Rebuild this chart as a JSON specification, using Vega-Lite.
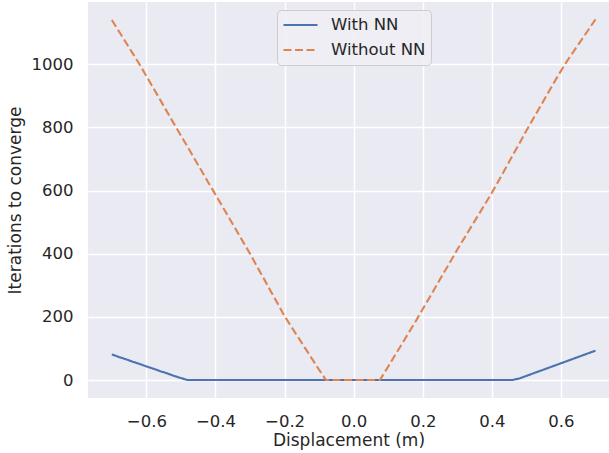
{
  "$schema": "https://vega.github.io/schema/vega-lite/v6.json",
  "width": 521,
  "height": 396,
  "autosize": {"type": "none"},
  "padding": {"left": 88, "top": 2, "right": 0, "bottom": 55},
  "background": "white",
  "config": {
    "font": "DejaVu Sans",
    "view": {"fill": "#EAEAF2", "stroke": null},
    "axis": {
      "domain": false,
      "ticks": false,
      "tickSize": 0,
      "grid": true,
      "gridColor": "white",
      "gridWidth": 1.4,
      "labelFont": "DejaVu Sans",
      "labelFontSize": 16.5,
      "labelColor": "#262626",
      "titleFont": "DejaVu Sans",
      "titleFontSize": 17,
      "titleFontWeight": "normal",
      "titleColor": "#262626"
    },
    "legend": {
      "labelFont": "DejaVu Sans",
      "labelFontSize": 16.5,
      "labelColor": "#262626"
    }
  },
  "data": {
    "values": [
      {"x": -0.70, "it": 81, "s": "With NN"},
      {"x": -0.68, "it": 73, "s": "With NN"},
      {"x": -0.66, "it": 66, "s": "With NN"},
      {"x": -0.64, "it": 58, "s": "With NN"},
      {"x": -0.62, "it": 51, "s": "With NN"},
      {"x": -0.60, "it": 43, "s": "With NN"},
      {"x": -0.58, "it": 36, "s": "With NN"},
      {"x": -0.56, "it": 28, "s": "With NN"},
      {"x": -0.54, "it": 21, "s": "With NN"},
      {"x": -0.52, "it": 13, "s": "With NN"},
      {"x": -0.50, "it": 6, "s": "With NN"},
      {"x": -0.48, "it": 0, "s": "With NN"},
      {"x": -0.40, "it": 0, "s": "With NN"},
      {"x": -0.20, "it": 0, "s": "With NN"},
      {"x": 0.00, "it": 0, "s": "With NN"},
      {"x": 0.20, "it": 0, "s": "With NN"},
      {"x": 0.40, "it": 0, "s": "With NN"},
      {"x": 0.46, "it": 0, "s": "With NN"},
      {"x": 0.48, "it": 5, "s": "With NN"},
      {"x": 0.50, "it": 13, "s": "With NN"},
      {"x": 0.52, "it": 21, "s": "With NN"},
      {"x": 0.54, "it": 29, "s": "With NN"},
      {"x": 0.56, "it": 37, "s": "With NN"},
      {"x": 0.58, "it": 45, "s": "With NN"},
      {"x": 0.60, "it": 53, "s": "With NN"},
      {"x": 0.62, "it": 61, "s": "With NN"},
      {"x": 0.64, "it": 69, "s": "With NN"},
      {"x": 0.66, "it": 77, "s": "With NN"},
      {"x": 0.68, "it": 85, "s": "With NN"},
      {"x": 0.70, "it": 93, "s": "With NN"},
      {"x": -0.70, "it": 1140, "s": "Without NN"},
      {"x": -0.68, "it": 1105, "s": "Without NN"},
      {"x": -0.66, "it": 1070, "s": "Without NN"},
      {"x": -0.64, "it": 1035, "s": "Without NN"},
      {"x": -0.62, "it": 1000, "s": "Without NN"},
      {"x": -0.60, "it": 962, "s": "Without NN"},
      {"x": -0.58, "it": 925, "s": "Without NN"},
      {"x": -0.56, "it": 887, "s": "Without NN"},
      {"x": -0.54, "it": 849, "s": "Without NN"},
      {"x": -0.52, "it": 811, "s": "Without NN"},
      {"x": -0.50, "it": 774, "s": "Without NN"},
      {"x": -0.48, "it": 737, "s": "Without NN"},
      {"x": -0.46, "it": 699, "s": "Without NN"},
      {"x": -0.44, "it": 662, "s": "Without NN"},
      {"x": -0.42, "it": 624, "s": "Without NN"},
      {"x": -0.40, "it": 587, "s": "Without NN"},
      {"x": -0.38, "it": 550, "s": "Without NN"},
      {"x": -0.36, "it": 512, "s": "Without NN"},
      {"x": -0.34, "it": 475, "s": "Without NN"},
      {"x": -0.32, "it": 437, "s": "Without NN"},
      {"x": -0.30, "it": 400, "s": "Without NN"},
      {"x": -0.28, "it": 360, "s": "Without NN"},
      {"x": -0.26, "it": 321, "s": "Without NN"},
      {"x": -0.24, "it": 281, "s": "Without NN"},
      {"x": -0.22, "it": 242, "s": "Without NN"},
      {"x": -0.20, "it": 202, "s": "Without NN"},
      {"x": -0.18, "it": 168, "s": "Without NN"},
      {"x": -0.16, "it": 134, "s": "Without NN"},
      {"x": -0.14, "it": 100, "s": "Without NN"},
      {"x": -0.12, "it": 66, "s": "Without NN"},
      {"x": -0.10, "it": 32, "s": "Without NN"},
      {"x": -0.08, "it": 0, "s": "Without NN"},
      {"x": -0.04, "it": 0, "s": "Without NN"},
      {"x": 0.00, "it": 0, "s": "Without NN"},
      {"x": 0.04, "it": 0, "s": "Without NN"},
      {"x": 0.076, "it": 0, "s": "Without NN"},
      {"x": 0.08, "it": 7, "s": "Without NN"},
      {"x": 0.10, "it": 43, "s": "Without NN"},
      {"x": 0.12, "it": 79, "s": "Without NN"},
      {"x": 0.14, "it": 115, "s": "Without NN"},
      {"x": 0.16, "it": 151, "s": "Without NN"},
      {"x": 0.18, "it": 187, "s": "Without NN"},
      {"x": 0.20, "it": 225, "s": "Without NN"},
      {"x": 0.22, "it": 262, "s": "Without NN"},
      {"x": 0.24, "it": 300, "s": "Without NN"},
      {"x": 0.26, "it": 338, "s": "Without NN"},
      {"x": 0.28, "it": 375, "s": "Without NN"},
      {"x": 0.30, "it": 413, "s": "Without NN"},
      {"x": 0.32, "it": 449, "s": "Without NN"},
      {"x": 0.34, "it": 485, "s": "Without NN"},
      {"x": 0.36, "it": 521, "s": "Without NN"},
      {"x": 0.38, "it": 557, "s": "Without NN"},
      {"x": 0.40, "it": 593, "s": "Without NN"},
      {"x": 0.42, "it": 632, "s": "Without NN"},
      {"x": 0.44, "it": 671, "s": "Without NN"},
      {"x": 0.46, "it": 711, "s": "Without NN"},
      {"x": 0.48, "it": 750, "s": "Without NN"},
      {"x": 0.50, "it": 790, "s": "Without NN"},
      {"x": 0.52, "it": 828, "s": "Without NN"},
      {"x": 0.54, "it": 866, "s": "Without NN"},
      {"x": 0.56, "it": 904, "s": "Without NN"},
      {"x": 0.58, "it": 942, "s": "Without NN"},
      {"x": 0.60, "it": 979, "s": "Without NN"},
      {"x": 0.62, "it": 1014, "s": "Without NN"},
      {"x": 0.64, "it": 1046, "s": "Without NN"},
      {"x": 0.66, "it": 1078, "s": "Without NN"},
      {"x": 0.68, "it": 1110, "s": "Without NN"},
      {"x": 0.70, "it": 1142, "s": "Without NN"}
    ]
  },
  "mark": {"type": "line", "strokeWidth": 2.1, "clip": true},
  "encoding": {
    "x": {
      "field": "x",
      "type": "quantitative",
      "scale": {"domain": [-0.769, 0.739], "nice": false, "zero": false},
      "axis": {
        "title": "Displacement (m)",
        "values": [-0.6, -0.4, -0.2, 0, 0.2, 0.4, 0.6],
        "format": ".1f",
        "labelExpr": "replace(datum.label, '-', '\u2212')",
        "labelPadding": 15,
        "titlePadding": 3
      }
    },
    "y": {
      "field": "it",
      "type": "quantitative",
      "scale": {"domain": [-57, 1197], "nice": false, "zero": false},
      "axis": {
        "title": "Iterations to converge",
        "values": [0, 200, 400, 600, 800, 1000],
        "format": "d",
        "labelPadding": 15,
        "titlePadding": 7
      }
    },
    "color": {
      "field": "s",
      "type": "nominal",
      "scale": {"domain": ["With NN", "Without NN"], "range": ["#4C72B0", "#DD8452"]},
      "legend": {
        "title": null,
        "orient": "none",
        "legendX": 189,
        "legendY": 8,
        "symbolType": "stroke",
        "symbolSize": 1156,
        "symbolStrokeWidth": 2.1,
        "clipHeight": 20,
        "rowPadding": 5,
        "labelOffset": 12,
        "padding": 5,
        "fillColor": "rgba(238,238,244,0.9)",
        "strokeColor": "#cccccc",
        "cornerRadius": 4
      }
    },
    "strokeDash": {
      "field": "s",
      "type": "nominal",
      "scale": {"domain": ["With NN", "Without NN"], "range": [[1, 0], [8, 3.5]]},
      "legend": null
    }
  }
}
